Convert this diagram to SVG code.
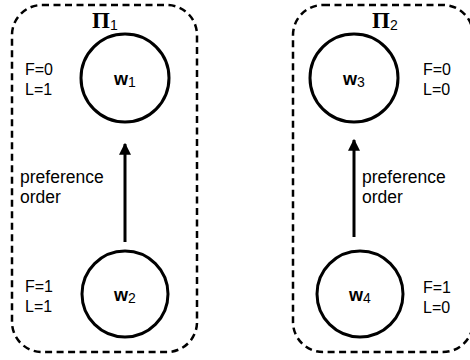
<svg xmlns="http://www.w3.org/2000/svg" width="470" height="360" viewBox="0 0 470 360">
  <style>
    .group { fill: none; stroke: #000; stroke-width: 2.5; stroke-dasharray: 7 4.5; }
    .node { fill: #fff; stroke: #000; stroke-width: 3; }
    .edge { stroke: #000; stroke-width: 3; fill: none; }
    .lbl { font-family: "Liberation Sans", Arial, sans-serif; font-size: 16px; fill: #000; }
    .ord { font-size: 17.5px; }
    .wl { font-family: "Liberation Sans", Arial, sans-serif; font-weight: bold; font-size: 18px; fill: #000; }
    .sub { font-family: "Liberation Sans", Arial, sans-serif; font-weight: normal; }
    .pi { font-family: "Liberation Serif", "Times New Roman", serif; font-weight: bold; font-size: 23px; fill: #000; }
  </style>
  <defs>
    <marker id="head" markerWidth="4" markerHeight="4" refX="3.6" refY="2" orient="auto" markerUnits="strokeWidth">
      <path d="M0,0 L4,2 L0,4 Z" fill="#000"/>
    </marker>
  </defs>

  <!-- partition Π1 -->
  <g id="partition1">
    <rect class="group" x="12" y="5" width="185" height="347" rx="30" ry="30"/>
    <text class="pi" x="92" y="28">Π<tspan class="sub" font-size="14" dy="2">1</tspan></text>
  </g>

  <!-- partition Π2 (its right side runs past the canvas edge) -->
  <g id="partition2">
    <rect class="group" x="293" y="5" width="180" height="347" rx="30" ry="30"/>
    <text class="pi" x="372" y="28">Π<tspan class="sub" font-size="14" dy="2">2</tspan></text>
  </g>

  <!-- connectors -->
  <g id="connectors">
    <line class="edge" x1="125" y1="242" x2="125" y2="144" marker-end="url(#head)"/>
    <line class="edge" x1="354" y1="237" x2="354" y2="140" marker-end="url(#head)"/>
    <text class="lbl ord" x="20" y="183">preference</text>
    <text class="lbl ord" x="20" y="203">order</text>
    <text class="lbl ord" x="362" y="183">preference</text>
    <text class="lbl ord" x="362" y="203">order</text>
  </g>

  <g id="w1">
    <circle class="node" cx="125" cy="78" r="44"/>
    <text class="wl" x="125" y="85" text-anchor="middle">w<tspan class="sub" font-size="14" dy="2">1</tspan></text>
    <text class="lbl" x="25" y="75">F=0</text>
    <text class="lbl" x="25" y="95">L=1</text>
  </g>

  <g id="w2">
    <circle class="node" cx="125" cy="294" r="43"/>
    <text class="wl" x="125" y="301" text-anchor="middle">w<tspan class="sub" font-size="14" dy="2">2</tspan></text>
    <text class="lbl" x="25" y="292">F=1</text>
    <text class="lbl" x="25" y="312">L=1</text>
  </g>

  <g id="w3">
    <circle class="node" cx="354" cy="78" r="44"/>
    <text class="wl" x="354" y="85" text-anchor="middle">w<tspan class="sub" font-size="14" dy="2">3</tspan></text>
    <text class="lbl" x="423" y="75">F=0</text>
    <text class="lbl" x="423" y="95">L=0</text>
  </g>

  <g id="w4">
    <circle class="node" cx="360" cy="294" r="43"/>
    <text class="wl" x="360" y="301" text-anchor="middle">w<tspan class="sub" font-size="14" dy="2">4</tspan></text>
    <text class="lbl" x="423" y="293">F=1</text>
    <text class="lbl" x="423" y="313">L=0</text>
  </g>
</svg>
